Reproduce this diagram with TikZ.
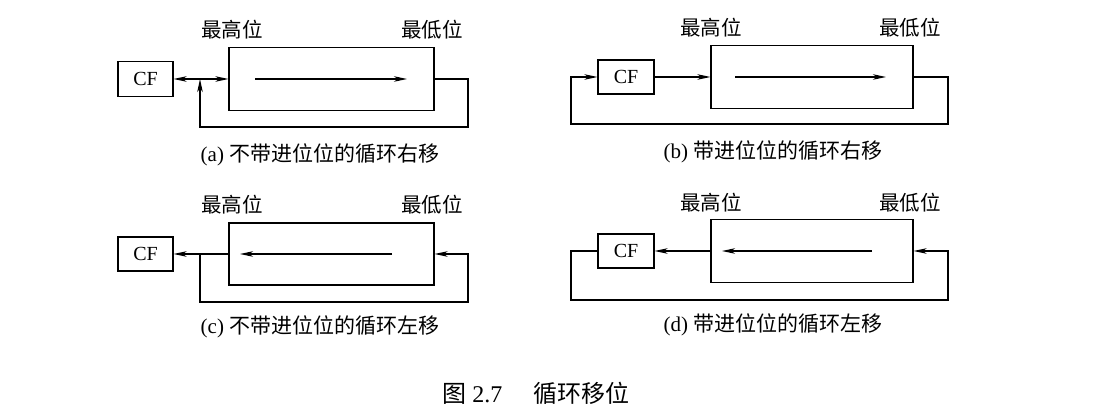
\documentclass[tikz,border=0pt]{standalone}
\usepackage{fontspec}
\setmainfont{Liberation Serif}
\newfontfamily\cjk{Noto Sans CJK SC}
\usetikzlibrary{arrows.meta}
\begin{document}
\begin{tikzpicture}[x=1pt,y=-1pt,
  line width=1.1pt,
  reg/.style={draw,minimum width=205pt,minimum height=63pt,inner sep=0pt},
  cfbox/.style={draw,minimum width=55pt,minimum height=35pt,inner sep=0pt,font=\fontsize{20}{22}\selectfont},
  lbl/.style={font=\cjk\fontsize{20.5}{22}\selectfont,inner sep=0pt},
  captxt/.style={font=\fontsize{21}{24}\selectfont,inner sep=0pt},
  figtxt/.style={font=\fontsize{24}{26}\selectfont,inner sep=0pt},
  arr/.style={-{Stealth[length=13pt,width=5.5pt,inset=3.5pt]}}]
\useasboundingbox (0,0) rectangle (1104,411);
% ---------- (a)
\node[cfbox] (cfA) at (145.5,79) {CF};
\node[reg] (regA) at (331.5,79) {};
\coordinate (jA) at (200,79);
\coordinate (a1) at (468,127);
\coordinate (a2) at (200,127);
\coordinate (a3) at (255,79);
\coordinate (a4) at (407,79);
\draw[arr] (a3) -- (a4);
\draw[arr] (jA) -- (cfA.east);
\draw[arr] (jA) -- (regA.west);
\draw[arr] (regA.east) -| (a1) -- (a2) -- (jA);
\node[lbl] (hiA) at (232,30) {最高位};
\node[lbl] (loA) at (432,30) {最低位};
\node[captxt] (capA) at (320,155) {(a) {\cjk 不带进位位的循环右移}};
% ---------- (b)
\node[cfbox,minimum width=56pt,minimum height=34pt] (cfB) at (626,77) {CF};
\node[reg,minimum width=202pt] (regB) at (812,77) {};
\coordinate (b1) at (948,124);
\coordinate (b2) at (571,124);
\coordinate (b3) at (735,77);
\coordinate (b4) at (886,77);
\draw[arr] (b3) -- (b4);
\draw[arr] (cfB.east) -- (regB.west);
\draw[arr] (regB.east) -| (b1) -- (b2) |- (cfB.west);
\node[lbl] (hiB) at (711,28) {最高位};
\node[lbl] (loB) at (910,28) {最低位};
\node[captxt] (capB) at (773,152) {(b) {\cjk 带进位位的循环右移}};
% ---------- (c)
\node[cfbox,minimum height=34pt] (cfC) at (145.5,254) {CF};
\node[reg,minimum height=62pt] (regC) at (331.5,254) {};
\coordinate (jC) at (200,254);
\coordinate (c1) at (200,302);
\coordinate (c2) at (468,302);
\coordinate (c3) at (392,254);
\coordinate (c4) at (240,254);
\draw[arr] (c3) -- (c4);
\draw[arr] (regC.west) -- (cfC.east);
\draw[arr] (jC) -- (c1) -- (c2) |- (regC.east);
\node[lbl] (hiC) at (232,205) {最高位};
\node[lbl] (loC) at (432,205) {最低位};
\node[captxt] (capC) at (320,327) {(c) {\cjk 不带进位位的循环左移}};
% ---------- (d)
\node[cfbox,minimum width=56pt,minimum height=34pt] (cfD) at (626,251) {CF};
\node[reg,minimum width=202pt] (regD) at (812,251) {};
\coordinate (d1) at (571,300);
\coordinate (d2) at (948,300);
\coordinate (d3) at (872,251);
\coordinate (d4) at (722,251);
\draw[arr] (d3) -- (d4);
\draw[arr] (regD.west) -- (cfD.east);
\draw[arr] (cfD.west) -| (d1) -- (d2) |- (regD.east);
\node[lbl] (hiD) at (711,203) {最高位};
\node[lbl] (loD) at (910,203) {最低位};
\node[captxt] (capD) at (773,325) {(d) {\cjk 带进位位的循环左移}};
% ---------- figure caption
\node[figtxt] (fig) at (536,393) {{\cjk 图} 2.7\hspace{1.3em}{\cjk 循环移位}};
\end{tikzpicture}
\end{document}
